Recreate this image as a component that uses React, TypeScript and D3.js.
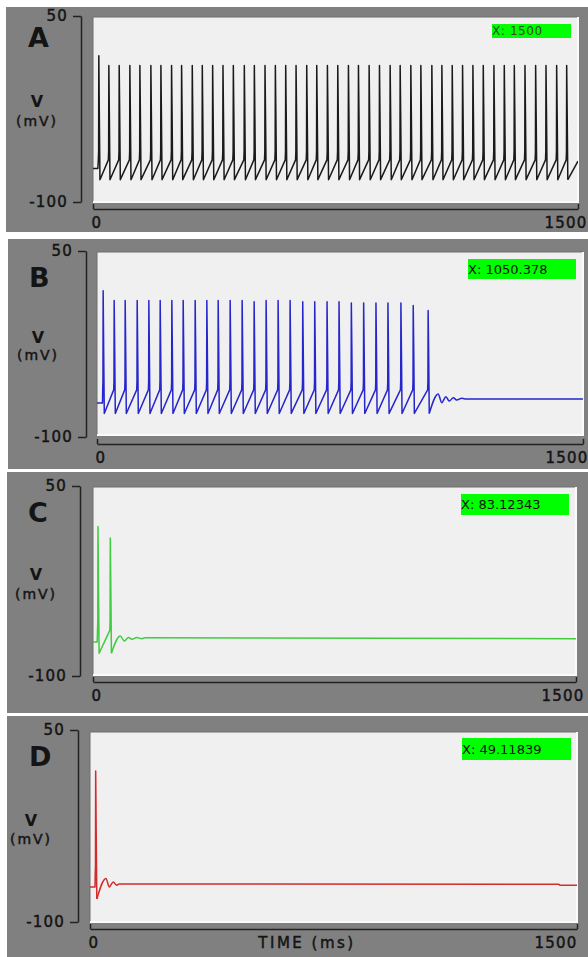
import * as d3 from 'd3';
import { useEffect, useRef } from 'react';

const panelLetters = ['A', 'B', 'C', 'D'];
const cursorLabels = ['X: 1500', 'X: 1050.378', 'X: 83.12343', 'X: 49.11839'];
const traceColors = ['#1a1a1a', '#2626cc', '#3fcc3f', '#d22c2c'];
const voltageTicks = [-100, 50];
const timeTicks = [0, 1500];

// spike peak times (ms) and peak voltages (mV)
const spikeTimesA = [18, 49, 81, 114, 145, 179, 210, 243, 274, 307, 338, 370, 402, 434, 468, 499, 532, 564, 596, 628, 661, 692, 725, 757, 790, 821, 854, 886, 919, 950, 983, 1014, 1048, 1079, 1111, 1143, 1175, 1207, 1240, 1272, 1303, 1336, 1369, 1401, 1434, 1465];
const spikePeaksA = [18, 10, 10, 10, 10, 10, 10, 10, 10, 10, 10, 10, 10, 10, 10, 10, 10, 10, 10, 10, 10, 10, 10, 10, 10, 10, 10, 10, 10, 10, 10, 10, 10, 10, 10, 10, 10, 10, 10, 10, 10, 10, 10, 10, 10, 10];
const spikeTimesB = [19, 53, 87, 124, 160, 195, 231, 266, 303, 339, 374, 411, 448, 485, 522, 559, 596, 635, 672, 710, 747, 785, 823, 861, 898, 938, 976, 1022];
const spikePeaksB = [18, 10, 10, 10, 10, 10, 10, 10, 10, 10, 10, 10, 10, 9, 10, 10, 10, 9, 9, 9, 9, 8, 8, 8, 8, 8, 6, 2];
const spikeTimesC = [15.5, 53.7];
const spikePeaksC = [18, 9];
const spikeTimesD = [17.5];
const spikePeaksD = [18];

// resting level before the first spike, and the trace after the last one
const leadA = [[0, -73], [15, -73]];
const tailA = [[1500, -67]];
const leadB = [[0, -72.6], [17, -72.6]];
const tailB = [[1053, -65.3], [1064, -72.3], [1077, -67.5], [1087, -71], [1100, -68.3], [1110, -70.2], [1126, -68.8], [1140, -69.4], [1500, -69.4]];
const leadC = [[0, -73.2], [13, -73.2]];
const tailC = [[84.7, -68.4], [97.1, -72.4], [110.5, -69.7], [121, -71], [136.6, -69.7], [152, -70.5], [162, -69.9], [1500, -70.5]];
const leadD = [[0, -72.6], [15.5, -72.6]];
const tailD = [[49.2, -66], [59.4, -72.6], [71.7, -68.7], [82.2, -71.3], [90, -70.3], [1444, -70.5], [1447, -71.2], [1500, -71.2]];

const thresholds = [-66, -62, -64, -63];
const troughs = [-82, -81, -82, -82];

const traces = [
  { lead: leadA, times: spikeTimesA, peaks: spikePeaksA, tail: tailA },
  { lead: leadB, times: spikeTimesB, peaks: spikePeaksB, tail: tailB },
  { lead: leadC, times: spikeTimesC, peaks: spikePeaksC, tail: tailC },
  { lead: leadD, times: spikeTimesD, peaks: spikePeaksD, tail: tailD },
];

// layout of each panel in the figure
const panels = [
  { outer: [6, 7, 582, 225], plot: [93, 17, 485, 185], yAxisX: 81, yTop: 16, yBottom: 202, xAxisY: 209, endShift: 9, letter: [28, 47], vLabel: [37, 107, 126], box: [492, 24, 79, 14], boxFont: 12, boxColor: '#2e4a2e' },
  { outer: [8, 239, 580, 230], plot: [97, 252, 486, 183], yAxisX: 86, yTop: 251, yBottom: 437, xAxisY: 444, endShift: 5, letter: [29, 287], vLabel: [38, 343, 360], box: [468, 259, 108, 20], boxFont: 13, boxColor: '#111' },
  { outer: [7, 472, 581, 241], plot: [93, 487, 483, 188], yAxisX: 80, yTop: 486, yBottom: 676, xAxisY: 682, endShift: 8, letter: [28, 522], vLabel: [36, 580, 599], box: [461, 494, 108, 21], boxFont: 13, boxColor: '#111' },
  { outer: [7, 716, 581, 241], plot: [90, 732, 487, 190], yAxisX: 78, yTop: 730, yBottom: 922, xAxisY: 929, endShift: 0, letter: [29, 766], vLabel: [31, 826, 844], box: [462, 738, 109, 22], boxFont: 13, boxColor: '#111' },
];

const fontFamily = '"DejaVu Sans", Verdana, sans-serif';
const textColor = '#141414';

// spiking part as straight segments; returns the points up to the last trough
const buildSpikes = (trace, threshold, trough) => {
  const points = [...trace.lead];
  trace.times.forEach((t, i) => {
    points.push([t - 1.5, threshold]);
    points.push([t - 0.6, threshold + 7]);
    points.push([t, trace.peaks[i]]);
    points.push([t + 1.6, -30]);
    points.push([t + 3.5, trough]);
  });
  return points;
};

const styleLabel = (selection, size, spacing) =>
  selection
    .attr('fill', textColor)
    .attr('stroke', textColor)
    .attr('stroke-width', 0.45)
    .attr('font-family', fontFamily)
    .attr('font-size', size)
    .attr('letter-spacing', spacing);

export default function App() {
  const svgRef = useRef(null);

  useEffect(() => {
    const svg = d3.select(svgRef.current);
    svg.selectAll('*').remove();
    svg.append('rect').attr('width', 588).attr('height', 957).attr('fill', '#ffffff');

    panels.forEach((panel, index) => {
      const [ox, oy, ow, oh] = panel.outer;
      const [px, py, pw, ph] = panel.plot;
      const g = svg.append('g');

      g.append('rect').attr('x', ox).attr('y', oy).attr('width', ow).attr('height', oh).attr('fill', '#808080');

      g.append('rect').attr('x', px).attr('y', py).attr('width', pw).attr('height', ph).attr('fill', '#f0f0f0');
      g.append('path')
        .attr('d', `M${px},${py + ph}V${py}H${px + pw}`)
        .attr('fill', 'none')
        .attr('stroke', '#6e6e6e')
        .attr('stroke-width', 1);
      g.append('path')
        .attr('d', `M${px + pw},${py}V${py + ph}H${px}`)
        .attr('fill', 'none')
        .attr('stroke', '#fbfbfb')
        .attr('stroke-width', 2);

      const x = d3.scaleLinear().domain([0, 1500]).range([px, px + pw]);
      const y = d3.scaleLinear().domain([-100, 50]).range([panel.yBottom, panel.yTop]);

      // y axis bracket
      g.append('g')
        .attr('transform', `translate(${panel.yAxisX},0)`)
        .call(d3.axisLeft(y).tickValues(voltageTicks).tickSize(8).tickSizeOuter(0).tickPadding(5).tickFormat(d3.format('d')))
        .call((axis) => axis.selectAll('path, line').attr('stroke', '#222').attr('stroke-width', 1.5))
        .call((axis) =>
          styleLabel(axis.selectAll('text'), 15, 1.2).text((d) => (d < 0 ? `-${Math.abs(d)}` : `${d}`))
        );

      // x axis
      g.append('g')
        .attr('transform', `translate(0,${panel.xAxisY})`)
        .call(d3.axisBottom(x).tickValues(timeTicks).tickSizeInner(-5).tickSizeOuter(0).tickPadding(8).tickFormat(d3.format('d')))
        .call((axis) => axis.selectAll('path, line').attr('stroke', '#222').attr('stroke-width', 1.5))
        .call((axis) =>
          styleLabel(axis.selectAll('text'), 15, 1.2)
            .attr('text-anchor', (d) => (d === 0 ? 'start' : 'end'))
            .attr('dx', (d) => (d === 0 ? -2 : panel.endShift))
        );

      if (index === 3) {
        styleLabel(g.append('text'), 15, 2.5)
          .attr('x', 307)
          .attr('y', panel.xAxisY + 19)
          .attr('text-anchor', 'middle')
          .text('TIME (ms)');
      }

      g.append('text')
        .attr('x', panel.letter[0])
        .attr('y', panel.letter[1])
        .attr('fill', textColor)
        .attr('font-family', fontFamily)
        .attr('font-weight', 'bold')
        .attr('font-size', 27)
        .text(panelLetters[index]);

      g.append('text')
        .attr('x', panel.vLabel[0])
        .attr('y', panel.vLabel[1])
        .attr('text-anchor', 'middle')
        .attr('fill', textColor)
        .attr('font-family', fontFamily)
        .attr('font-weight', 'bold')
        .attr('font-size', 16)
        .text('V');

      styleLabel(g.append('text'), 14, 2)
        .attr('x', panel.vLabel[0])
        .attr('y', panel.vLabel[2])
        .attr('text-anchor', 'middle')
        .text('(mV)');

      const clipId = `clip-${index}`;
      g.append('clipPath').attr('id', clipId).append('rect').attr('x', px).attr('y', py).attr('width', pw).attr('height', ph);

      const trace = traces[index];
      const spikePoints = buildSpikes(trace, thresholds[index], troughs[index]);
      const tailPoints = [spikePoints[spikePoints.length - 1], ...trace.tail];

      const straight = d3
        .line()
        .x((d) => x(d[0]))
        .y((d) => y(d[1]))
        .curve(d3.curveLinear);
      const smooth = d3
        .line()
        .x((d) => x(d[0]))
        .y((d) => y(d[1]))
        .curve(d3.curveMonotoneX);

      [
        [spikePoints, straight],
        [tailPoints, trace.tail.length > 1 ? smooth : straight],
      ].forEach(([points, gen]) => {
        g.append('path')
          .datum(points)
          .attr('clip-path', `url(#${clipId})`)
          .attr('fill', 'none')
          .attr('stroke', traceColors[index])
          .attr('stroke-width', 1.5)
          .attr('stroke-linejoin', 'round')
          .attr('d', gen);
      });

      const [bx, by, bw, bh] = panel.box;
      g.append('rect').attr('x', bx).attr('y', by).attr('width', bw).attr('height', bh).attr('fill', '#00ff00');
      g.append('text')
        .attr('x', bx)
        .attr('y', by + bh / 2)
        .attr('dy', '0.35em')
        .attr('fill', panel.boxColor)
        .attr('font-family', fontFamily)
        .attr('font-size', panel.boxFont)
        .attr('letter-spacing', index === 0 ? 0.6 : 0)
        .text(cursorLabels[index]);
    });
  }, []);

  return (
    <div style={{ position: 'absolute', left: 0, top: 0 }}>
      <svg ref={svgRef} width={588} height={957} style={{ display: 'block' }} />
    </div>
  );
}
